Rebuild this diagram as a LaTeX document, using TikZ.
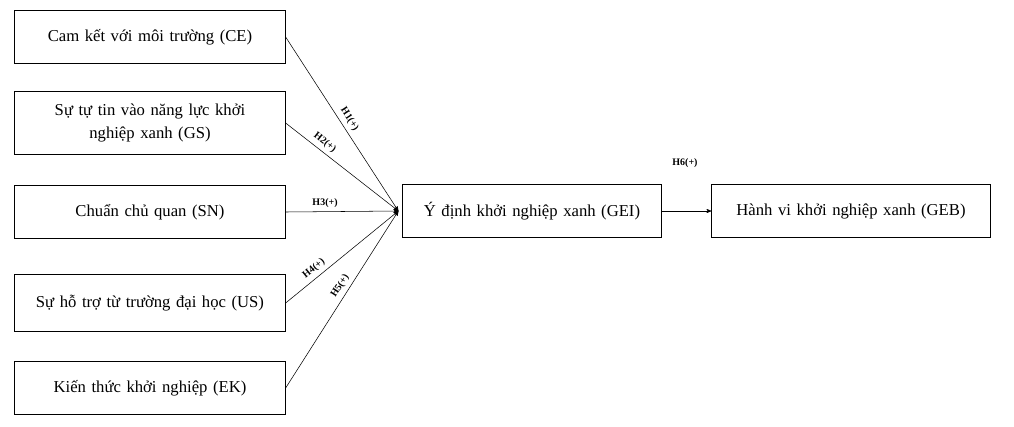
\documentclass[tikz,border=0pt]{standalone}
\usepackage{fontspec}
\setmainfont{Liberation Serif}
\usetikzlibrary{arrows}
\tikzset{
	box node/.style={draw,thick,align=center,minimum height=40pt,text width=196pt,font=\fontsize{12.5}{17}\selectfont},
	hyp/.style={font=\bfseries\fontsize{7.5}{8}\selectfont,sloped,inner sep=3pt}
}

\begin{document}
\begin{tikzpicture}[->,>=stealth',x=0.75pt,y=-0.75pt]
	\useasboundingbox (0,0) rectangle (1014,426);
	\node [box node] (ce) at (150,37) {Cam kết với môi trường (CE)};
	\node [box node,minimum height=47pt] (gs) at (150,123) {Sự tự tin vào năng lực khởi\\nghiệp xanh (GS)};
	\node [box node] (sn) at (150,212) {Chuẩn chủ quan (SN)};
	\node [box node,minimum height=43pt] (us) at (150,303) {Sự hỗ trợ từ trường đại học (US)};
	\node [box node] (ek) at (150,388) {Kiến thức khởi nghiệp (EK)};
	\node [box node,text width=187pt] (gei) at (532,211) {Ý định khởi nghiệp xanh (GEI)};
	\node [box node,text width=202pt] (geb) at (851,211) {Hành vi khởi nghiệp xanh (GEB)};
	\coordinate (hub) at ([xshift=-3pt]gei.west);
	\draw (ce.east) -- node[hyp,above,pos=0.5] {H1(+)} (hub);
	\draw (gs.east) -- node[hyp,above,pos=0.3] {H2(+)} (hub);
	\draw (sn.east) -- node[hyp,above,pos=0.35] {H3(+)} (hub);
	\draw (us.east) -- node[hyp,above,pos=0.3] {H4(+)} (hub);
	\draw (ek.east) -- node[hyp,above,pos=0.55] {H5(+)} (hub);
	\draw (gei.east) -- (geb.west);
	\node [hyp] (h6) at (685,163) {H6(+)};
\end{tikzpicture}
\end{document}
